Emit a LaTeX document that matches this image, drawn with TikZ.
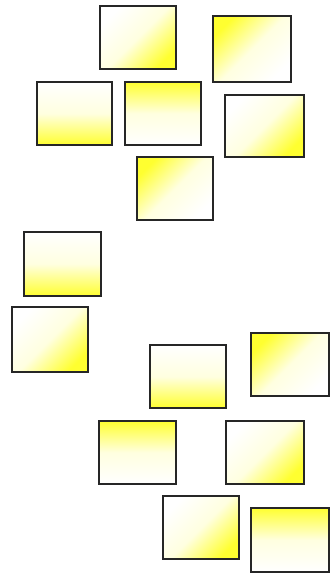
\documentclass[tikz,border=0pt]{standalone}
\usepackage{tikz}
\definecolor{ylw}{HTML}{FFFF30}
\tikzset{
  card/.style={draw=black!85,line width=1.2pt},
  ylwtop/.style={card,top color=ylw,bottom color=white,middle color=ylw!15!white},
  ylwbot/.style={card,top color=white,bottom color=ylw,middle color=ylw!15!white},
  ylwtl/.style={card,top color=ylw,bottom color=white,middle color=ylw!15!white,shading angle=45},
  ylwbr/.style={card,top color=white,bottom color=ylw,middle color=ylw!15!white,shading angle=45}
}

\begin{document}
\begin{tikzpicture}[x=0.75pt,y=-0.75pt]
  \useasboundingbox (0,0) rectangle (331,574);
  \draw[ylwbr] (100,6) rectangle (176,69);
  \draw[ylwtl] (213,16) rectangle (291,82);
  \draw[ylwbot] (37,82) rectangle (112,145);
  \draw[ylwtop] (125,82) rectangle (201,145);
  \draw[ylwbr] (225,95) rectangle (304,157);
  \draw[ylwtl] (137,157) rectangle (213,220);
  \draw[ylwbot] (24,232) rectangle (101,296);
  \draw[ylwbr] (12,307) rectangle (88,372);
  \draw[ylwbot] (150,345) rectangle (226,408);
  \draw[ylwtl] (251,333) rectangle (329,396);
  \draw[ylwtop] (99,421) rectangle (176,484);
  \draw[ylwbr] (226,421) rectangle (304,484);
  \draw[ylwbr] (163,496) rectangle (239,559);
  \draw[ylwtop] (251,508) rectangle (329,572);
\end{tikzpicture}
\end{document}
